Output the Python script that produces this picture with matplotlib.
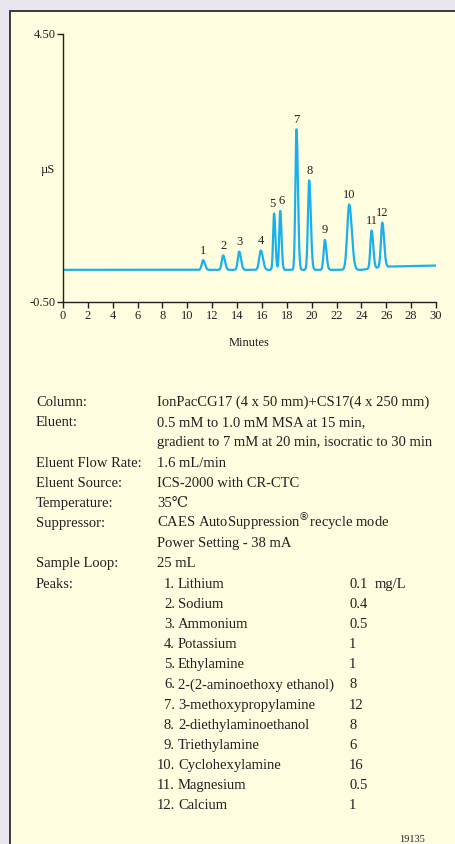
import numpy as np
import matplotlib.pyplot as plt
from matplotlib.patches import Rectangle

plt.rcParams['font.family'] = ['Liberation Serif', 'DejaVu Serif']

# peak data
peak_num = [1, 2, 3, 4, 5, 6, 7, 8, 9, 10, 11, 12]
peak_time = [11.27, 12.88, 14.17, 15.91, 16.98, 17.47, 18.78, 19.80, 21.06, 23.02, 24.82, 25.68]
peak_height = [0.18, 0.27, 0.34, 0.36, 1.05, 1.10, 2.62, 1.67, 0.56, 1.22, 0.71, 0.83]
peak_sigma = [0.11, 0.11, 0.11, 0.13, 0.08, 0.08, 0.09, 0.10, 0.10, 0.16, 0.10, 0.11]
base_time = [0, 24, 26, 30]
base_val = [0.10, 0.10, 0.16, 0.18]

# method info
info_labels = ['Column:', 'Eluent:', '', 'Eluent Flow Rate:', 'Eluent Source:',
               'Temperature:', 'Suppressor:', '', 'Sample Loop:', 'Peaks:']
info_values = ['IonPacCG17 (4 x 50 mm)+CS17(4 x 250 mm)',
               '0.5 mM to 1.0 mM MSA at 15 min,',
               'gradient to 7 mM at 20 min, isocratic to 30 min',
               '1.6 mL/min', 'ICS-2000 with CR-CTC', '35\u2103',
               'CAES AutoSuppression$^{\\circledR}$recycle mode',
               'Power Setting - 38 mA', '25 mL', '']
peak_names = ['Lithium', 'Sodium', 'Ammonium', 'Potassium', 'Ethylamine',
              '2-(2-aminoethoxy ethanol)', '3-methoxypropylamine',
              '2-diethylaminoethanol', 'Triethylamine', 'Cyclohexylamine',
              'Magnesium', 'Calcium']
peak_conc = ['0.1', '0.4', '0.5', '1', '1', '8', '12', '8', '6', '16', '0.5', '1']

W, H = 455, 844
bg = '#e9e6ef'
panel = '#fffde0'
ink = '#231f20'
blue = '#1ab0ec'

fig = plt.figure(figsize=(W / 100, H / 100), dpi=100, facecolor=bg)
fig.patches.append(Rectangle((9.5 / W, -0.01), 1, 1.01 - 11 / H, transform=fig.transFigure,
                             facecolor=panel, edgecolor='#3a3a3a', linewidth=1.4, zorder=-5))

ax = fig.add_axes([63 / W, 1 - 302 / H, (436 - 63) / W, (302 - 34) / H])
ax.set_facecolor('none')
ax.set_zorder(2)

t = np.linspace(0, 30, 3001)
y = np.interp(t, base_time, base_val)
for tr, h, s in zip(peak_time, peak_height, peak_sigma):
    left = np.exp(-0.5 * ((t - tr) / s) ** 2)
    right = np.exp(-0.5 * ((t - tr) / (s * 1.3)) ** 2)
    y = y + h * np.where(t < tr, left, right)
ax.plot(t, y, color=blue, lw=1.6, solid_capstyle='butt')

for n, tr, h in zip(peak_num, peak_time, peak_height):
    top = np.interp(tr, base_time, base_val) + h
    dx = 0
    if n == 5:
        dx = -0.15
    if n == 6:
        dx = 0.1
    ax.annotate(str(n), (tr + dx, top), xytext=(0, 2.5), textcoords='offset points',
                ha='center', va='bottom', fontsize=9, color=ink)

ax.set_xlim(0, 30)
ax.set_ylim(-0.5, 4.5)
ax.set_xticks(range(0, 31, 2))
ax.set_yticks([-0.5, 4.5])
ax.set_yticklabels(['-0.50', '4.50'])
for side in ['top', 'right']:
    ax.spines[side].set_visible(False)
for side in ['left', 'bottom']:
    ax.spines[side].set_color(ink)
    ax.spines[side].set_linewidth(1.0)
ax.tick_params(direction='out', length=4, width=1.0, color=ink, labelcolor=ink,
               labelsize=9, pad=1.5)
ax.set_xlabel('Minutes', fontsize=9, color=ink, labelpad=11)
fig.text(48 / W, 1 - 170 / H, '\u00b5S', ha='center', va='center', fontsize=9, color=ink)

# info table
def fy(py):
    return 1 - py / H

fs = 10.5
step = 20.17
base0 = 406
for i, (lab, val) in enumerate(zip(info_labels, info_values)):
    yy = fy(base0 + step * i)
    if lab:
        fig.text(36 / W, yy, lab, fontsize=fs, color=ink, va='baseline')
    if val:
        fig.text(157 / W, yy, val, fontsize=fs, color=ink, va='baseline')

for j, (name, conc) in enumerate(zip(peak_names, peak_conc)):
    yy = fy(base0 + step * (9 + j))
    fig.text(175 / W, yy, '%d.' % (j + 1), fontsize=fs, color=ink, va='baseline', ha='right')
    fig.text(178 / W, yy, name, fontsize=fs, color=ink, va='baseline')
    fig.text(349 / W, yy, conc, fontsize=fs, color=ink, va='baseline')
    if j == 0:
        fig.text(375 / W, yy, 'mg/L', fontsize=fs, color=ink, va='baseline')

fig.text(412 / W, fy(842), '19135', fontsize=7.5, color=ink, ha='center', va='baseline')

fig.savefig('out.png', dpi=100, facecolor=bg)
